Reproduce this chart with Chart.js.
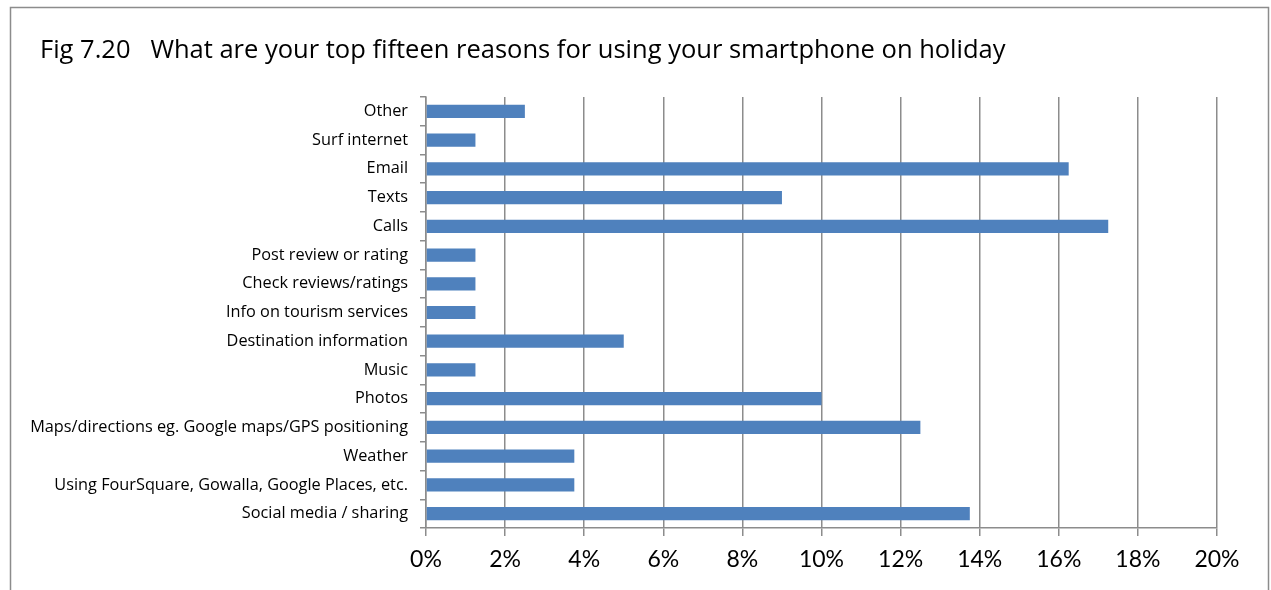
<!DOCTYPE html>
<html>
<head>
<meta charset="utf-8">
<script src="https://cdn.jsdelivr.net/npm/chart.js@4/dist/chart.umd.min.js"></script>
<style>
  html, body { margin: 0; padding: 0; background: #fff; }
  #wrap { width: 1271px; height: 590px; }
</style>
</head>
<body>
<div id="wrap"><canvas id="chart" width="1271" height="590"></canvas></div>
<script>
// 原因类别（自上而下）
const reasons = [
  'Other',
  'Surf internet',
  'Email',
  'Texts',
  'Calls',
  'Post review or rating',
  'Check reviews/ratings',
  'Info on tourism services',
  'Destination information',
  'Music',
  'Photos',
  'Maps/directions eg. Google maps/GPS positioning',
  'Weather',
  'Using FourSquare, Gowalla, Google Places, etc.',
  'Social media / sharing'
];

// 百分比
const shares = [2.5, 1.25, 16.25, 9, 17.25, 1.25, 1.25, 1.25, 5, 1.25, 10, 12.5, 3.75, 3.75, 13.75];

// x 轴刻度
const xTicks = [0, 2, 4, 6, 8, 10, 12, 14, 16, 18, 20];

const titleText = 'Fig 7.20   What are your top fifteen reasons for using your smartphone on holiday';
const textFont = '"Open Sans", Lato, sans-serif';
const tickFont = 'Lato, "Open Sans", sans-serif';
const gridColor = '#8c8c8c';

// 外框和标题
const frame = {
  id: 'frame',
  beforeDraw(chart) {
    const ctx = chart.ctx;
    ctx.save();
    ctx.fillStyle = '#fff';
    ctx.fillRect(0, 0, chart.width, chart.height);
    ctx.strokeStyle = '#8c8c8c';
    ctx.lineWidth = 1.5;
    ctx.strokeRect(10.5, 7.5, 1258, 620);
    ctx.restore();
  },
  afterDraw(chart) {
    const ctx = chart.ctx;
    ctx.save();
    ctx.fillStyle = '#000';
    ctx.font = '25.5px ' + textFont;
    ctx.textAlign = 'left';
    ctx.textBaseline = 'middle';
    ctx.fillText(titleText, 40, 50.3);
    ctx.restore();
  }
};

new Chart(document.getElementById('chart'), {
  type: 'bar',
  data: {
    labels: reasons,
    datasets: [{
      data: shares,
      backgroundColor: '#4f81bd',
      borderWidth: 0,
      barPercentage: 0.46,
      categoryPercentage: 1
    }]
  },
  options: {
    indexAxis: 'y',
    responsive: false,
    animation: false,
    layout: { padding: { left: 16, right: 54, top: 97, bottom: 0 } },
    plugins: {
      legend: { display: false },
      tooltip: { enabled: false },
      title: { display: false }
    },
    scales: {
      x: {
        min: 0,
        max: 20,
        afterBuildTicks: (axis) => { axis.ticks = xTicks.map(v => ({ value: v })); },
        afterFit: (axis) => { axis.height = 62; },
        ticks: {
          color: '#000',
          padding: 10,
          font: { family: tickFont, size: 23 },
          callback: (v) => v + '%'
        },
        grid: { color: gridColor, lineWidth: 1.5, tickLength: 8, drawTicks: true },
        border: { color: gridColor, width: 1.5 }
      },
      y: {
        afterFit: (axis) => { axis.width = 410; },
        ticks: {
          color: '#000',
          padding: 12,
          autoSkip: false,
          font: { family: textFont, size: 16.3 }
        },
        grid: { drawOnChartArea: false, drawTicks: true, tickLength: 6, offset: true, color: gridColor, lineWidth: 1.5 },
        border: { color: gridColor, width: 1.5 }
      }
    }
  },
  plugins: [frame]
});
</script>
</body>
</html>
